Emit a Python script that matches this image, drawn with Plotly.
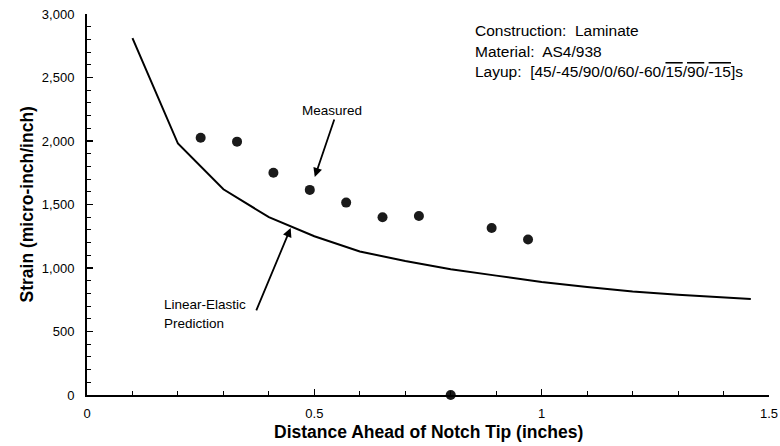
import plotly.graph_objects as go

# Linear-elastic prediction curve
pred_x = [0.1, 0.2, 0.3, 0.4, 0.5, 0.6, 0.7, 0.8, 0.9, 1.0, 1.1, 1.2, 1.3, 1.46]
pred_y = [2810, 1980, 1620, 1400, 1250, 1130, 1055, 990, 940, 890, 850, 815, 790, 755]

# Measured strain
meas_x = [0.25, 0.33, 0.41, 0.49, 0.57, 0.65, 0.73, 0.80, 0.89, 0.97]
meas_y = [2025, 1995, 1750, 1615, 1515, 1400, 1410, 0, 1315, 1225]

x_ticks = [0, 0.5, 1, 1.5]
x_tick_labels = ["0", "0.5", "1", "1.5"]
y_ticks = [0, 500, 1000, 1500, 2000, 2500, 3000]

x_title = "Distance Ahead of Notch Tip (inches)"
y_title = "Strain (micro-inch/inch)"
info_lines = ["Construction:  Laminate", "Material:  AS4/938"]
layup_parts = ["45/-45/90/0/60/-60/", "15", "90", "-15"]

FONT = "Liberation Sans, Arial, sans-serif"

fig = go.Figure()
fig.add_trace(go.Scatter(x=pred_x, y=pred_y, mode="lines",
                         line=dict(color="black", width=2), showlegend=False,
                         hoverinfo="skip"))
fig.add_trace(go.Scatter(x=meas_x, y=meas_y, mode="markers",
                         marker=dict(color="#1a1a1a", size=10), cliponaxis=False,
                         showlegend=False, hoverinfo="skip"))

ov = "<span style='text-decoration:overline'>{}</span>"
layup = ("Layup:  [" + layup_parts[0] + ov.format(layup_parts[1]) + "/" +
         ov.format(layup_parts[2]) + "/" + ov.format(layup_parts[3]) + "]s")

txt_font = dict(size=15.5, family=FONT, color="black")
for txt, yy in zip(info_lines + [layup], [2868, 2703, 2546]):
    fig.add_annotation(x=0.85, y=yy, xref="x", yref="y", xanchor="left", yanchor="middle",
                       showarrow=False, font=txt_font, text=txt)

lab_font = dict(size=13.5, family=FONT, color="black")
# Measured arrow
fig.add_annotation(x=0.501, y=1717, ax=0.545, ay=2181, xref="x", yref="y", axref="x", ayref="y",
                   showarrow=True, arrowhead=2, arrowsize=1, arrowwidth=1.8, arrowcolor="black",
                   text="")
fig.add_annotation(x=0.538, y=2244, xref="x", yref="y", xanchor="center", yanchor="middle",
                   showarrow=False, font=lab_font, text="Measured")
# Prediction arrow
fig.add_annotation(x=0.448, y=1315, ax=0.371, ay=654, xref="x", yref="y", axref="x", ayref="y",
                   showarrow=True, arrowhead=2, arrowsize=1, arrowwidth=1.8, arrowcolor="black",
                   text="")
fig.add_annotation(x=0.165, y=712, xref="x", yref="y", xanchor="left", yanchor="middle",
                   showarrow=False, font=lab_font, text="Linear-Elastic")
fig.add_annotation(x=0.165, y=560, xref="x", yref="y", xanchor="left", yanchor="middle",
                   showarrow=False, font=lab_font, text="Prediction")

# Axis titles (placed precisely in paper coordinates)
title_font = dict(size=17.5, family=FONT, color="black")
fig.add_annotation(x=0.5, y=-0.097, xref="paper", yref="paper", xanchor="center",
                   yanchor="middle", showarrow=False, font=title_font,
                   text="<b>" + x_title + "</b>")
fig.add_annotation(x=-0.088, y=0.5, xref="paper", yref="paper", xanchor="center",
                   yanchor="middle", showarrow=False, font=title_font, textangle=-90,
                   text="<b>" + y_title + "</b>")

axis_common = dict(showline=True, linecolor="black", linewidth=2, ticks="inside", ticklen=6,
                   tickwidth=1.5, tickcolor="black", showgrid=False, zeroline=False,
                   automargin=False,
                   tickfont=dict(size=13, family=FONT, color="black"))
fig.update_xaxes(range=[0, 1.5], tickvals=x_ticks, ticktext=x_tick_labels,
                 minor=dict(ticks="inside", dtick=0.1, ticklen=4, tickcolor="black", tickwidth=1),
                 ticklabelstandoff=5, **axis_common)
fig.update_yaxes(range=[0, 3000], tickvals=y_ticks, tickformat=",",
                 minor=dict(ticks="inside", dtick=100, ticklen=4, tickcolor="black", tickwidth=1),
                 ticklabelstandoff=8, **axis_common)

fig.update_layout(width=780, height=446, margin=dict(l=87, r=11, t=14, b=51),
                  plot_bgcolor="white", paper_bgcolor="white", hovermode=False,
                  font=dict(family=FONT, color="black"))
fig.write_html("out.html", config={"displayModeBar": False, "staticPlot": True},
               post_script="document.body.style.margin='0';document.body.style.overflow='hidden';")
